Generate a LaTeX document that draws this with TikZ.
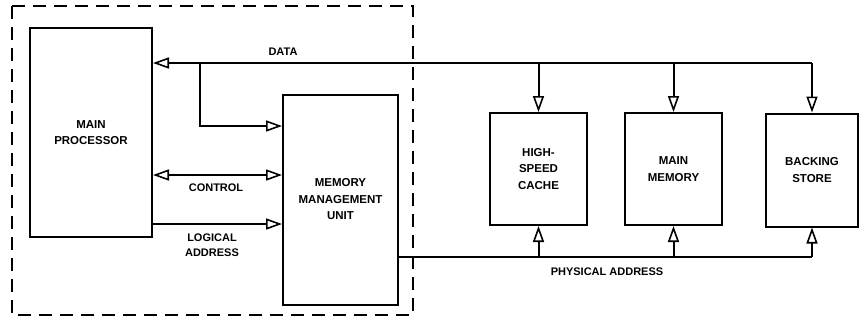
\documentclass[tikz,border=0pt]{standalone}
\usepackage{fontspec}
\setmainfont{Liberation Sans}
\usetikzlibrary{arrows.meta}
\begin{document}
\begin{tikzpicture}[x=1pt,y=-1pt,
  box/.style={draw,line width=2pt,inner sep=0pt,align=center,font=\fontsize{11.5}{16.5}\selectfont\bfseries},
  wire/.style={line width=2pt},
  tip/.style={},
  arr/.style={wire,-{Triangle[open,length=16pt,width=11pt,line width=1.6pt]}},
  darr/.style={wire,{Triangle[open,length=16pt,width=11pt,line width=1.6pt]}-{Triangle[open,length=16pt,width=11pt,line width=1.6pt]}},
  lbl/.style={font=\fontsize{11}{15}\selectfont\bfseries,align=center,inner sep=0pt}]
\useasboundingbox (0,0) rectangle (861,322);
% dashed enclosure
\draw[line width=2pt,dash pattern=on 13pt off 8pt] (12,6) rectangle (413,315);
% boxes
\node[box,minimum width=122pt,minimum height=209pt] (mp) at (91,132.5) {MAIN\\PROCESSOR};
\node[box,minimum width=115pt,minimum height=210pt] (mmu) at (340.5,199.5) {MEMORY\\MANAGEMENT\\UNIT};
\node[box,minimum width=97pt,minimum height=112pt] (cache) at (538.5,169) {HIGH-\\SPEED\\CACHE};
\node[box,minimum width=97pt,minimum height=112pt] (mem) at (673.5,169) {MAIN\\MEMORY};
\node[box,minimum width=92pt,minimum height=113pt] (bs) at (812,170) {BACKING\\STORE};
% coordinates
\coordinate (dR) at (812,63);
\coordinate (dB) at (200,63);
\coordinate (pR) at (812,257);
% data bus
\draw[arr] (dR) -- (dR -| mp.east);
\draw[arr] (dB) -- (dB |- 0,126) -- (mmu.west |- 0,126);
\draw[arr] (dR -| cache.north) -- (cache.north);
\draw[arr] (dR -| mem.north) -- (mem.north);
\draw[arr] (dR) -- (bs.north);
% control and logical address
\draw[darr] (mp.east |- 0,175) -- (mmu.west |- 0,175);
\draw[arr] (mp.east |- 0,224) -- (mmu.west |- 0,224);
% physical address
\draw[wire] (mmu.east |- pR) -- (pR);
\draw[arr] (pR -| cache.south) -- (cache.south);
\draw[arr] (pR -| mem.south) -- (mem.south);
\draw[arr] (pR) -- (bs.south);
% labels
\node[lbl] (ldata) at (283,52) {DATA};
\node[lbl] (lctrl) at (216,188) {CONTROL};
\node[lbl] (llog) at (212,245) {LOGICAL\\ADDRESS};
\node[lbl] (lphys) at (607,272) {PHYSICAL ADDRESS};
\end{tikzpicture}
\end{document}
